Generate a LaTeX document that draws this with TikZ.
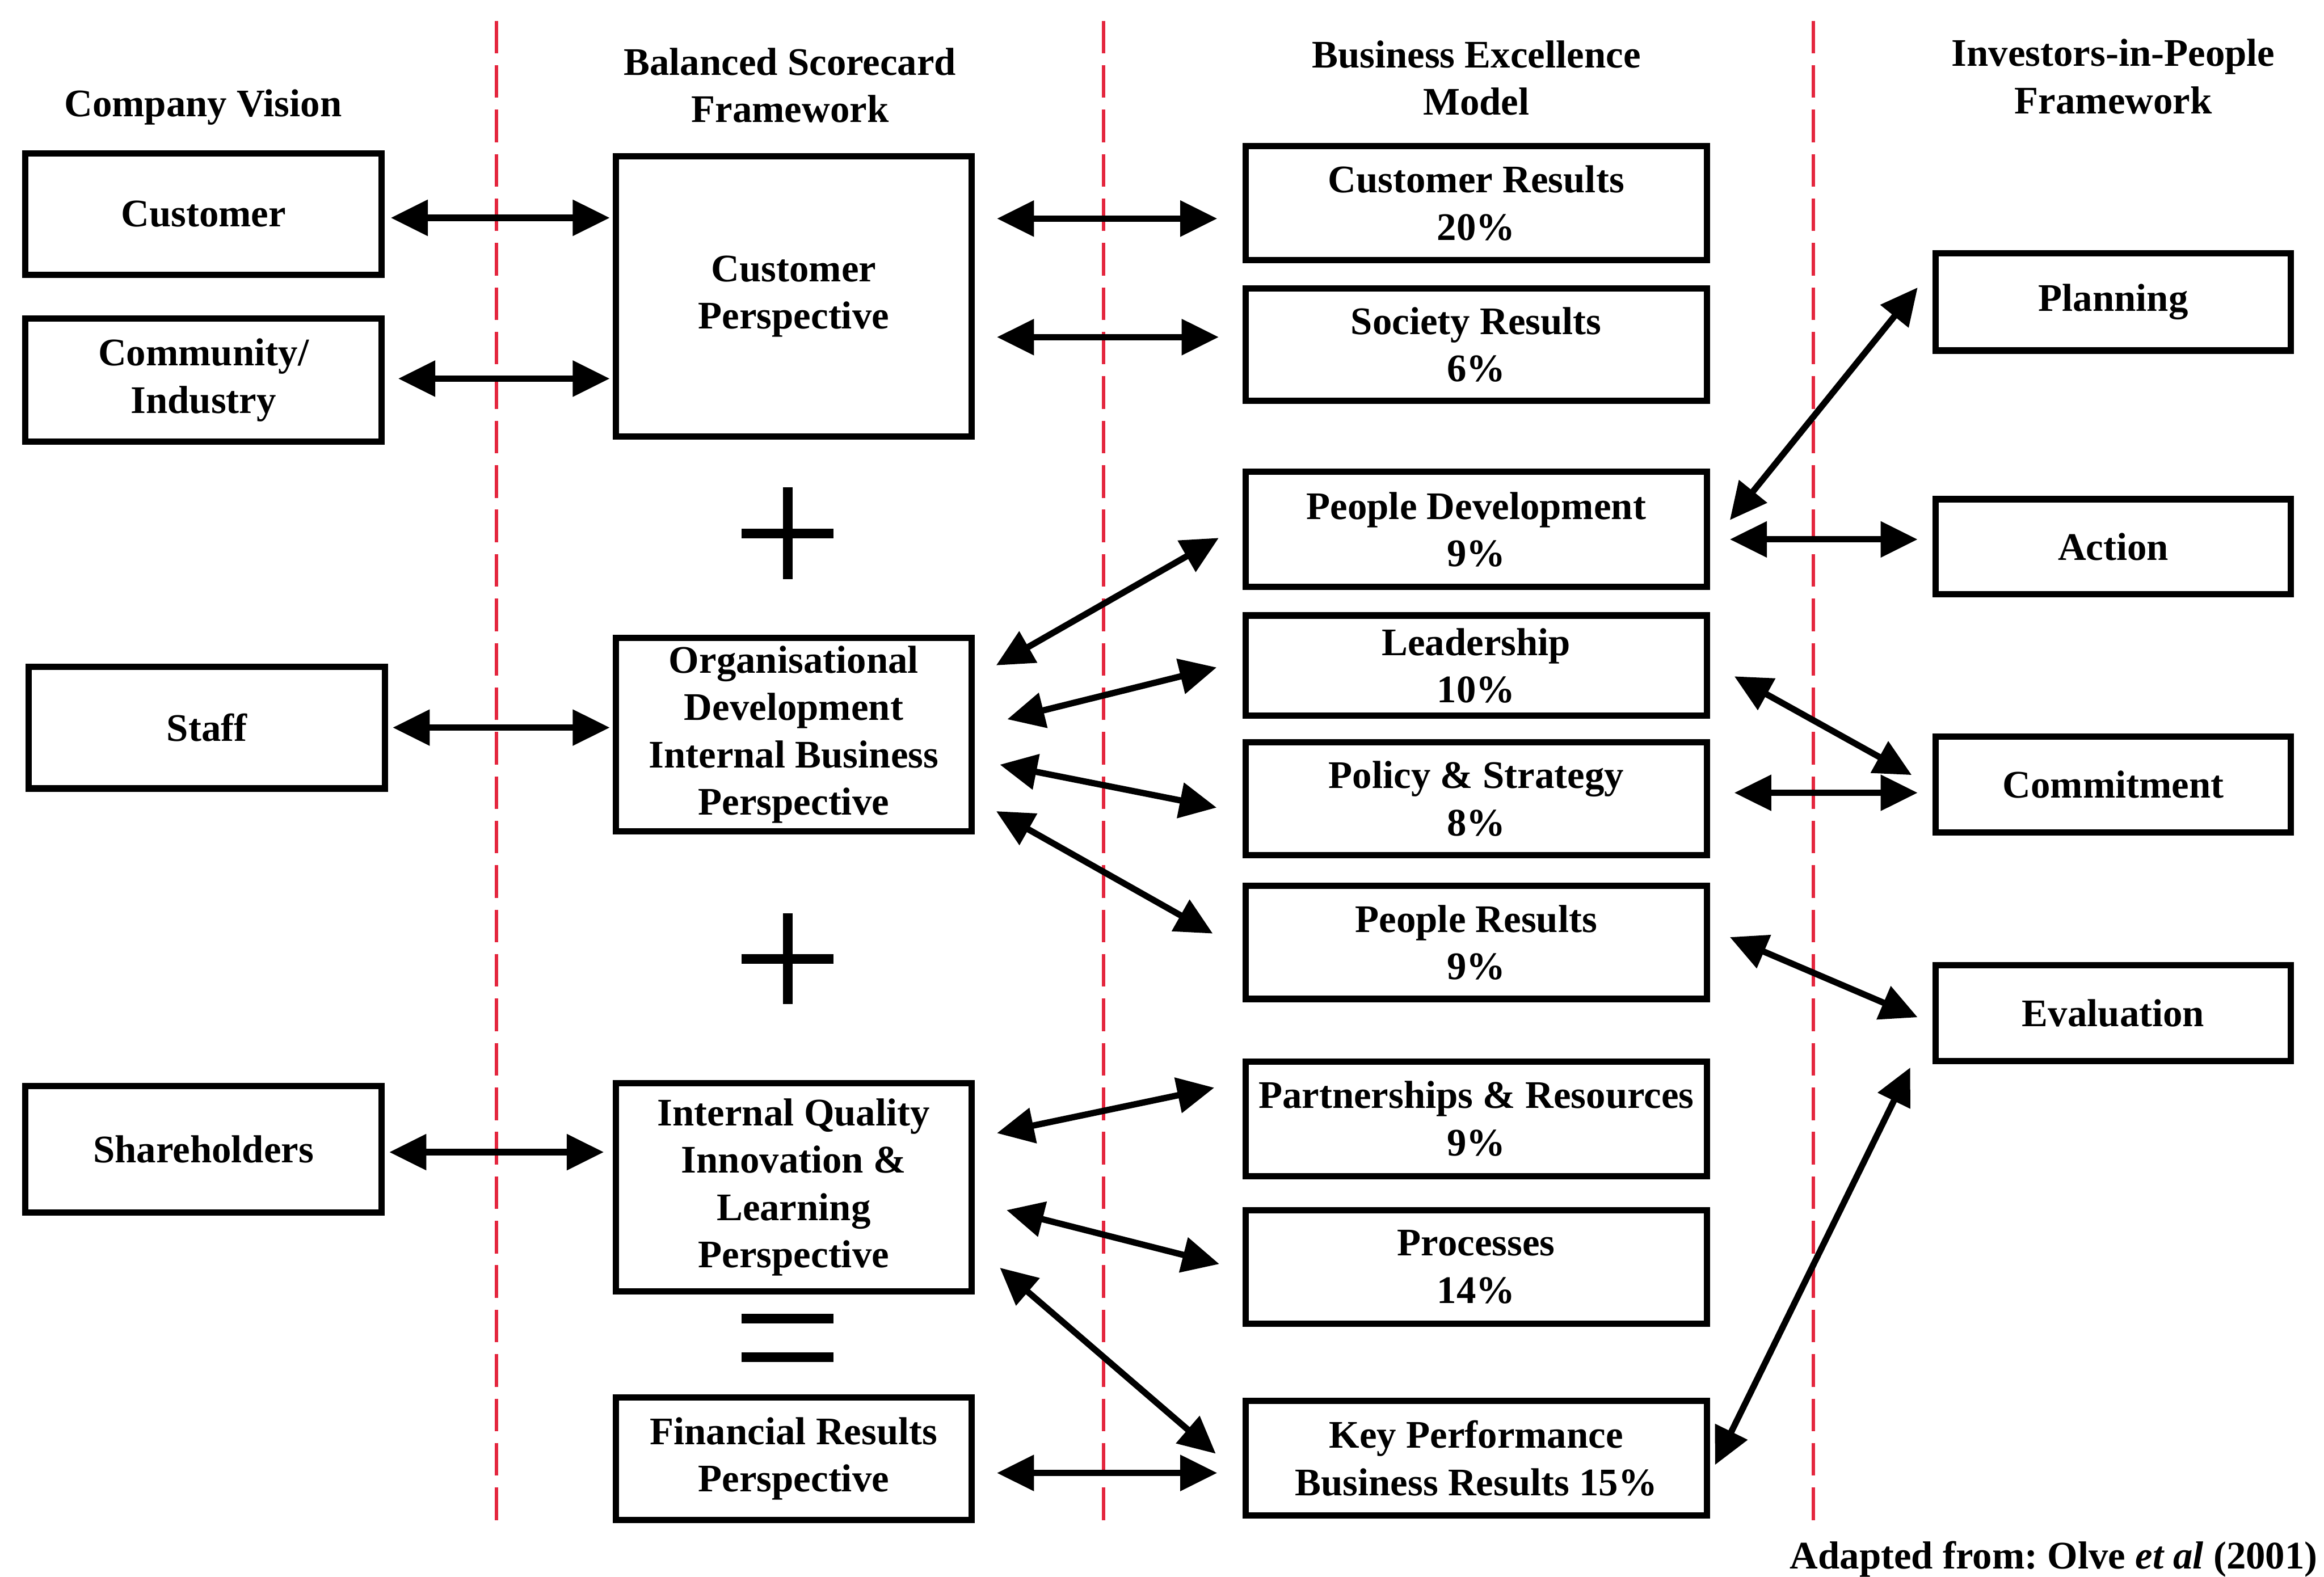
\documentclass[tikz,border=0pt]{standalone}
\usepackage{fontspec}
\setmainfont{Liberation Serif}
\usetikzlibrary{arrows.meta,calc}
\definecolor{dividerred}{RGB}{228,38,62}
\frenchspacing
\begin{document}
\begin{tikzpicture}[x=0.02cm,y=-0.02cm,
  font=\fontsize{15}{18.2}\selectfont\bfseries,
  box/.style={draw, line width=0.085cm, inner sep=0pt, align=center},
  head/.style={anchor=north, inner sep=0pt, align=center},
  link/.style={{Triangle[length=0.5cm,width=0.47cm]}-{Triangle[length=0.5cm,width=0.47cm]}, line width=0.085cm},
  divider/.style={draw=dividerred, line width=0.05cm, dash pattern=on 0.44cm off 0.16cm},
  sign/.style={line width=0.13cm}]

% canvas
\fill[white] (0,0) rectangle (1568,1064);
\useasboundingbox (0,0) rectangle (1568,1064);

% column dividers
\draw[divider] (335,14) -- (335,1027);
\draw[divider] (744.5,14) -- (744.5,1027);
\draw[divider] (1223.5,14) -- (1223.5,1027);

% column headings
\node[head] (hcv)  at (137,60)    {Company Vision};
\node[head] (hbsc) at (533,32)    {Balanced Scorecard\\Framework};
\node[head] (hbem) at (996,27)    {Business Excellence\\Model};
\node[head] (hiip) at (1425.8,26) {Investors-in-People\\Framework};

% company vision
\node[box, minimum width=4.81cm, minimum height=1.645cm] (cust)  at (137.3,144.5) {Customer};
\node[box, minimum width=4.81cm, minimum height=1.665cm] (comm)  at (137.3,256.5) {Community/\\Industry};
\node[box, minimum width=4.81cm, minimum height=1.645cm] (staff) at (139.6,491)   {Staff};
\node[box, minimum width=4.81cm, minimum height=1.705cm] (share) at (137.3,775.5) {Shareholders};

% balanced scorecard
\node[box, minimum width=4.8cm, minimum height=3.785cm] (cp)  at (535.5,200)   {Customer\\Perspective};
\node[box, minimum width=4.8cm, minimum height=2.615cm] (org) at (535.5,495.7) {Organisational\\Development\\Internal Business\\Perspective};
\node[box, minimum width=4.8cm, minimum height=2.81cm]  (iq)  at (535.5,801.2) {Internal Quality\\Innovation \&\\Learning\\Perspective};
\node[box, minimum width=4.8cm, minimum height=1.657cm] (fr)  at (535.5,984.3) {Financial Results\\Perspective};

% plus, plus, equals
\draw[sign] (500.5,360) -- (562.5,360) (531.5,329) -- (531.5,391);
\draw[sign] (500.5,647) -- (562.5,647) (531.5,616.5) -- (531.5,677.5);
\draw[sign] (500.5,890) -- (562.5,890) (500.5,916) -- (562.5,916);

% business excellence model
\node[box, minimum width=6.225cm, minimum height=1.537cm] (cr)   at (996,137.1) {Customer Results\\20\%};
\node[box, minimum width=6.225cm, minimum height=1.515cm] (sr)   at (996,232.5) {Society Results\\6\%};
\node[box, minimum width=6.225cm, minimum height=1.555cm] (pd)   at (996,357.3) {People Development\\9\%};
\node[box, minimum width=6.225cm, minimum height=1.355cm] (lead) at (996,449.2) {Leadership\\10\%};
\node[box, minimum width=6.225cm, minimum height=1.525cm] (ps)   at (996,539)   {Policy \& Strategy\\8\%};
\node[box, minimum width=6.225cm, minimum height=1.525cm] (pr)   at (996,636)   {People Results\\9\%};
\node[box, minimum width=6.225cm, minimum height=1.545cm] (par)  at (996,755)   {Partnerships \& Resources\\9\%};
\node[box, minimum width=6.225cm, minimum height=1.525cm] (proc) at (996,855)   {Processes\\14\%};
\node[box, minimum width=6.225cm, minimum height=1.545cm] (kp)   at (996,984)   {Key Performance\\Business Results 15\%};

% investors in people
\node[box, minimum width=4.795cm, minimum height=1.315cm] (plan) at (1425.8,203.7) {Planning};
\node[box, minimum width=4.795cm, minimum height=1.285cm] (act)  at (1425.8,369)   {Action};
\node[box, minimum width=4.795cm, minimum height=1.3cm]   (comt) at (1425.8,529.4) {Commitment};
\node[box, minimum width=4.795cm, minimum height=1.295cm] (eval) at (1425.8,683.7) {Evaluation};

% source
\node[anchor=base east, inner sep=0pt] (src) at (1564,1058.5) {Adapted from: Olve \textit{et al} (2001)};

% vision <-> scorecard
\draw[link] ($(cust.east|-0,147)+(4,0)$)    -- ($(cp.west|-0,147)+(-2,0)$);
\draw[link] ($(comm.east|-0,255.5)+(9,0)$)  -- ($(cp.west|-0,255.5)+(-2,0)$);
\draw[link] ($(staff.east|-0,491)+(3,0)$)   -- ($(org.west|-0,491)+(-2,0)$);
\draw[link] ($(share.east|-0,777.5)+(3,0)$) -- ($(iq.west|-0,777.5)+(-6,0)$);

% scorecard <-> excellence model
\draw[link] ($(cp.east|-0,147.5)+(15,0)$)  -- ($(cr.west|-0,147.5)+(-17,0)$);
\draw[link] ($(cp.east|-0,227.5)+(15,0)$)  -- ($(sr.west|-0,227.5)+(-16,0)$);
\draw[link] ($(org.east|-0,449)+(14.5,0)$) -- ($(pd.west|-0,363)+(-16,0)$);
\draw[link] ($(org.east|-0,485.4)+(22,0)$) -- ($(lead.west|-0,450.4)+(-17.4,0)$);
\draw[link] ($(org.east|-0,516)+(17,0)$)   -- ($(ps.west|-0,545)+(-17.4,0)$);
\draw[link] ($(org.east|-0,547.4)+(14.5,0)$) -- ($(pr.west|-0,630)+(-20,0)$);
\draw[link] ($(iq.east|-0,764.7)+(15,0)$)  -- ($(par.west|-0,734)+(-19,0)$);
\draw[link] ($(iq.east|-0,816.6)+(21.5,0)$) -- ($(proc.west|-0,853)+(-15.6,0)$);
\draw[link] ($(iq.east|-0,855.5)+(17,0)$)  -- ($(kp.west|-0,981)+(-18,0)$);
\draw[link] ($(fr.east|-0,994)+(15,0)$)    -- ($(kp.west|-0,994)+(-17,0)$);

% excellence model <-> investors in people
\draw[link] ($(pd.east|-0,351)+(13.4,0)$)   -- ($(plan.west|-0,194)+(-10,0)$);
\draw[link] ($(pd.east|-0,364)+(13.4,0)$)   -- ($(act.west|-0,364)+(-10,0)$);
\draw[link] ($(lead.east|-0,456.4)+(16.4,0)$) -- ($(comt.west|-0,523)+(-14,0)$);
\draw[link] ($(ps.east|-0,535)+(16.4,0)$)   -- ($(comt.west|-0,535)+(-10,0)$);
\draw[link] ($(pr.east|-0,632.4)+(13.4,0)$) -- ($(eval.west|-0,686.5)+(-10,0)$);
\draw[link] ($(kp.east|-0,988.6)+(3.4,0)$)  -- ($(eval.west|-0,720.4)+(-15,0)$);
\end{tikzpicture}
\end{document}
